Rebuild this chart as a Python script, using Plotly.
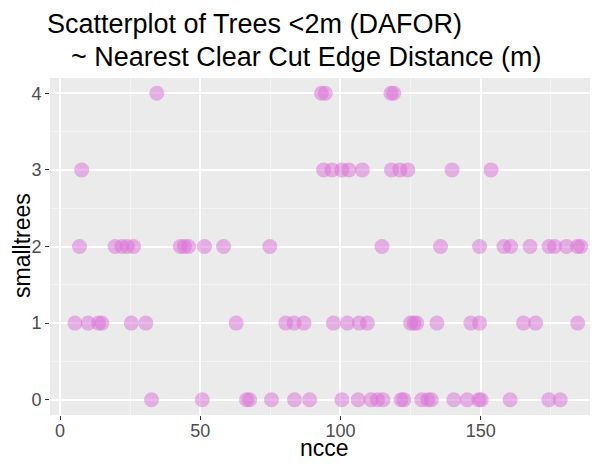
import plotly.graph_objects as go

# nearest clear cut edge distance (m) for each plot, grouped by smalltrees DAFOR score
ncce_4 = [34.5, 93.2, 94.6, 118.0, 119.0]
ncce_3 = [7.7, 94.0, 97.0, 100.5, 103.0, 107.8, 118.2, 121.2, 124.0, 139.8, 153.7]
ncce_2 = [6.9, 19.6, 22.0, 24.0, 26.2, 42.9, 44.3, 45.8, 51.5, 58.3, 74.8,
          114.8, 135.7, 149.6, 158.3, 160.7, 167.6, 174.4, 176.4, 180.6, 184.5, 185.7]
ncce_1 = [5.3, 10.0, 13.7, 14.9, 25.4, 30.6, 62.8, 80.5, 83.5, 87.0, 97.5, 102.5,
          106.7, 109.6, 125.0, 126.2, 127.2, 134.4, 146.5, 149.6, 165.3, 169.6, 184.6]
ncce_0 = [32.6, 50.7, 66.5, 67.6, 75.4, 83.6, 89.0, 100.5, 106.3, 110.9, 113.2,
          115.2, 121.6, 122.6, 129.0, 131.2, 132.4, 140.4, 145.2, 149.3, 150.2,
          160.5, 174.3, 178.4]

groups = [(4, ncce_4), (3, ncce_3), (2, ncce_2), (1, ncce_1), (0, ncce_0)]
x_vals = [x for _, xs in groups for x in xs]
y_vals = [score for score, xs in groups for _ in xs]

fig = go.Figure(go.Scatter(
    x=x_vals,
    y=y_vals,
    mode="markers",
    marker=dict(size=15, color="orchid", opacity=0.5, line=dict(width=0)),
    hoverinfo="x+y",
))

# the page body adds an 8px margin, so the figure is 8px smaller than the window
# panel sits at 42..582 x 70..407 in figure pixels
fig.update_layout(
    width=594,
    height=456,
    margin=dict(l=42, r=12, t=70, b=49, autoexpand=False),
    paper_bgcolor="white",
    plot_bgcolor="#EBEBEB",
    showlegend=False,
    font=dict(family="Liberation Sans, Arial, sans-serif", color="#000000"),
)

def px(fx):
    return (fx - 42) / 540

def py(fy):
    return (407 - fy) / 337

# title and axis titles as annotations so they sit where ggplot put them
fig.add_annotation(text="Scatterplot of Trees &lt;2m (DAFOR)", xref="paper", yref="paper",
                   x=px(37), y=py(16), xanchor="left", yanchor="middle",
                   showarrow=False, font=dict(size=27, color="#000000"))
fig.add_annotation(text="~ Nearest Clear Cut Edge Distance (m)", xref="paper", yref="paper",
                   x=px(61), y=py(49), xanchor="left", yanchor="middle",
                   showarrow=False, font=dict(size=27, color="#000000"))
fig.add_annotation(text="ncce", xref="paper", yref="paper",
                   x=px(316), y=py(440), xanchor="center", yanchor="middle",
                   showarrow=False, font=dict(size=23, color="#000000"))
fig.add_annotation(text="smalltrees", xref="paper", yref="paper", textangle=-90,
                   x=px(14), y=py(238), xanchor="center", yanchor="middle",
                   showarrow=False, font=dict(size=23, color="#000000"))

axis_common = dict(
    showgrid=True, gridcolor="white", gridwidth=1.5,
    zeroline=False, showline=False, automargin=False,
    ticks="outside", ticklen=4, tickcolor="#333333", tickwidth=1,
    tickfont=dict(size=18, color="#4D4D4D"),
    minor=dict(showgrid=True, gridcolor="#F4F4F4", gridwidth=0.8),
)

fig.update_xaxes(
    range=[-3.6, 189], tickvals=[0, 50, 100, 150],
    minor_tickvals=[25, 75, 125, 175], ticklabelstandoff=-5,
    **axis_common,
)
fig.update_yaxes(
    range=[-0.2, 4.2], tickvals=[0, 1, 2, 3, 4],
    minor_tickvals=[0.5, 1.5, 2.5, 3.5],
    **axis_common,
)

fig.write_html("out.html")
